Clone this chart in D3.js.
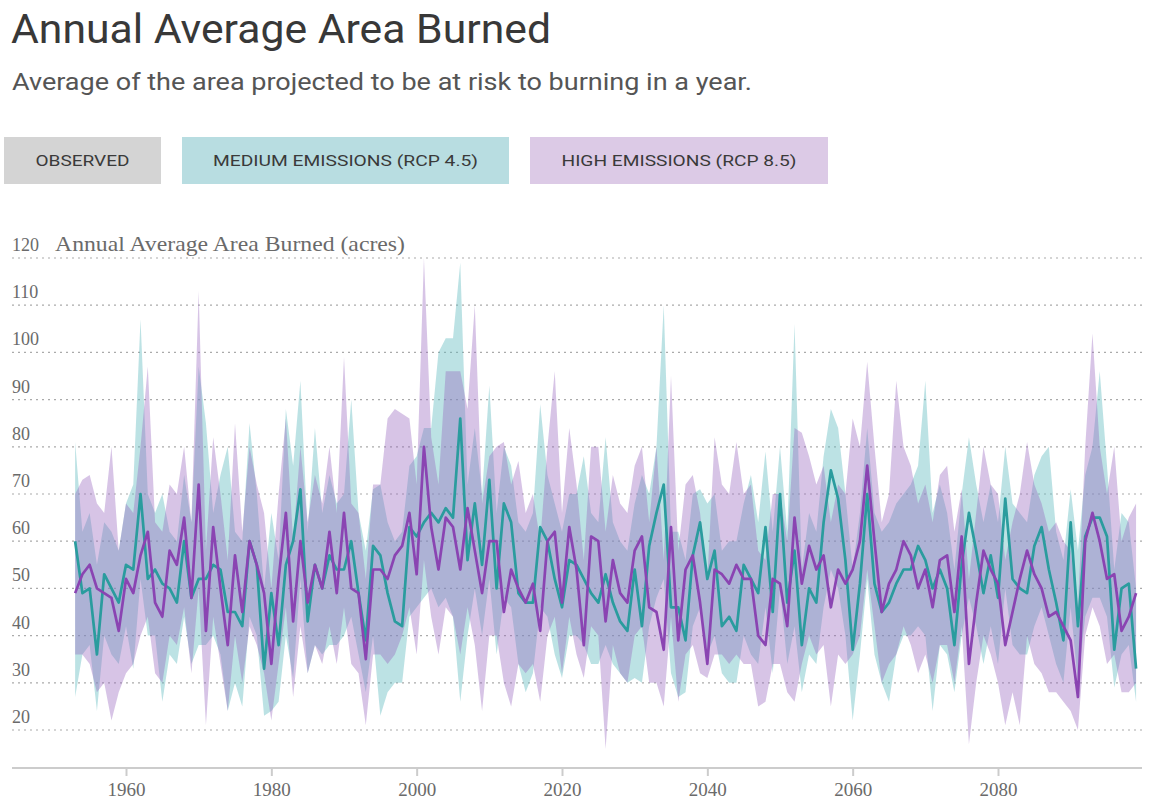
<!doctype html>
<html lang="en">
<head>
<meta charset="utf-8">
<title>Annual Average Area Burned</title>
<script src="https://d3js.org/d3.v7.min.js"></script>
<style>
    body { margin: 0; background: #fff; }
    .title { font-family: Roboto, "Open Sans", sans-serif; font-size: 40px; font-weight: 400; fill: #383838; }
    .subtitle { font-family: Roboto, "Open Sans", sans-serif; font-size: 23px; fill: #555; }
    .btn text { font-family: Roboto, sans-serif; font-size: 15px; fill: #3a3a3a; }
    .grid line { stroke: #aaa; stroke-dasharray: 2,4; stroke-width: 1.2px; }
    .ylab { font-family: "Liberation Serif", serif; font-size: 18px; fill: #6a6a6a; }
    .xaxis text { font-family: "Liberation Serif", serif; font-size: 19px; fill: #6a6a6a; }
    .xaxis path, .xaxis line { stroke: #ccc; stroke-width: 2px; }
    .line { fill: none; stroke-width: 2.7px; stroke-linejoin: round; }
</style>
</head>
<body>
<svg width="1151" height="806"></svg>
<script>
// years 1953 .. 2099
var firstYear = 1953;

// medium emissions (RCP 4.5)
var rcp45 = [
    60,49,50,36,53,50,47,
    55,54,70,52,54,51,50,47,60,48,
    52,52,55,54,45,45,42,60,55,33,
    49,38,55,60,71,43,55,50,57,54,
    54,60,49,39,59,57,49,43,42,63,
    61,64,66,64,67,65,86,56,68,55,
    73,50,68,64,49,47,47,63,60,52,
    46,56,55,52,49,47,53,47,43,41,
    54,42,59,66,72,46,46,39,57,64,
    52,58,42,44,41,55,52,49,63,45,
    70,47,58,38,50,47,64,75,69,56,
    37,51,70,51,45,47,51,54,54,59,
    56,50,54,50,38,55,66,58,49,57,
    48,69,52,50,49,59,63,54,47,39,
    64,42,61,65,65,61,37,50,51,33
];
var hi45 = [
    81,62,66,55,64,62,58,
    68,72,107,70,66,70,62,60,74,64,
    97,85,66,74,80,62,60,85,70,50,
    66,56,88,76,94,62,84,66,74,68,
    70,90,66,58,71,72,64,60,62,76,
    78,84,84,100,103,103,119,72,84,70,
    93,66,80,76,64,62,66,89,74,68,
    62,70,70,78,66,64,82,64,60,58,
    68,74,70,80,110,62,62,56,70,71,
    68,70,58,60,60,68,74,64,79,62,
    80,62,106,54,66,62,78,88,84,70,
    54,66,84,66,62,64,68,70,72,76,
    94,66,72,66,54,70,82,72,64,72,
    64,80,68,66,64,74,78,80,62,56,
    71,58,74,80,96,76,54,66,64,50
];
var lo45 = [
    27,36,38,24,40,36,34,
    42,33,52,40,40,26,36,34,44,34,
    38,38,40,36,24,30,25,44,40,23,
    24,26,40,31,52,32,38,36,38,38,
    40,44,36,28,40,23,28,30,30,44,
    46,48,50,46,48,44,26,40,50,40,
    52,36,48,46,34,28,32,46,44,36,
    31,40,40,38,34,34,38,34,32,30,
    31,30,42,48,52,32,27,28,42,46,
    36,40,32,30,30,40,36,34,46,32,
    50,34,42,28,36,34,46,54,50,40,
    22,36,52,36,30,26,36,40,40,42,
    40,24,38,36,28,40,48,42,34,42,
    34,50,38,36,36,42,46,40,34,30,
    46,30,44,48,48,44,29,36,38,26
];

// high emissions (RCP 8.5)
var rcp85 = [
    49,53,55,50,49,48,41,
    52,49,57,62,47,44,58,55,65,48,
    72,41,63,50,38,57,45,60,55,49,
    34,52,66,43,60,47,55,50,62,49,
    66,50,49,35,54,54,52,57,59,66,
    53,80,63,54,65,63,54,67,58,49,
    60,60,45,54,50,47,51,41,60,62,
    47,63,54,38,61,60,43,56,49,47,
    58,61,46,45,37,63,39,54,57,47,
    34,54,53,51,55,52,52,40,38,52,
    51,42,65,51,59,54,57,46,54,51,
    54,60,76,60,45,51,54,60,57,50,
    54,46,56,57,45,61,34,47,58,54,
    51,38,45,52,58,53,50,44,45,42,
    39,27,60,66,60,52,53,41,44,49
];
var hi85 = [
    70,73,74,68,66,80,58,
    68,66,80,97,64,62,72,70,80,64,
    113,58,82,70,56,85,62,80,72,66,
    50,70,86,60,80,64,74,68,80,66,
    99,68,66,52,72,72,86,88,87,86,
    72,120,82,72,96,96,96,88,110,68,
    78,80,81,72,77,66,70,60,80,96,
    66,84,72,56,80,80,62,74,68,66,
    76,80,64,80,56,95,58,72,74,66,
    52,82,72,70,81,70,72,58,56,70,
    70,60,84,83,78,72,76,64,72,70,
    86,80,98,80,64,70,94,80,76,68,
    72,64,74,76,62,71,52,66,80,72,
    70,56,64,70,81,72,68,62,64,60,
    58,46,80,104,80,70,80,60,65,68
];
var lo85 = [
    36,36,34,28,30,22,28,
    32,34,40,44,32,30,40,38,46,32,
    50,21,44,34,24,40,30,42,38,32,
    22,34,46,27,42,32,38,34,42,34,
    46,34,32,21,36,36,34,36,40,46,
    36,56,44,36,46,44,36,46,38,24,
    40,40,30,25,34,32,34,26,40,44,
    32,44,36,31,42,40,16,38,32,30,
    40,42,30,30,25,44,26,36,38,32,
    31,36,36,34,36,34,34,25,26,34,
    34,28,26,34,40,36,38,25,36,34,
    36,40,54,42,30,34,36,42,38,32,
    36,30,38,38,30,42,17,30,40,36,
    30,21,28,21,40,34,32,28,28,26,
    24,20,40,46,42,34,36,28,28,30
];

var yTicks = [20, 30, 40, 50, 60, 70, 80, 90, 100, 110, 120];
var xTicks = [1960, 1980, 2000, 2020, 2040, 2060, 2080];
var buttons = [
    {label: "OBSERVED", fill: "#d4d4d4"},
    {label: "MEDIUM EMISSIONS (RCP 4.5)", fill: "#b8dde1"},
    {label: "HIGH EMISSIONS (RCP 8.5)", fill: "#dccae6"}
];

function series(vals) {
    return vals.map(function(v, i) { return {year: firstYear + i, v: v}; });
}
function band(lo, hi) {
    return lo.map(function(v, i) { return {year: firstYear + i, lo: v, hi: hi[i]}; });
}

var svg = d3.select("svg");

svg.append("text").attr("class", "title")
    .attr("x", 11).attr("y", 43)
    .attr("textLength", 540).attr("lengthAdjust", "spacingAndGlyphs")
    .text("Annual Average Area Burned");
svg.append("text").attr("class", "subtitle")
    .attr("x", 12).attr("y", 90)
    .attr("textLength", 740).attr("lengthAdjust", "spacingAndGlyphs")
    .text("Average of the area projected to be at risk to burning in a year.");

// legend buttons
var btnX = [4, 182, 530], btnW = [157, 327, 298], txtW = [94, 265, 235];
var btn = svg.selectAll(".btn")
    .data(buttons)
    .enter().append("g")
    .attr("class", "btn")
    .attr("transform", function(d, i) { return "translate(" + btnX[i] + ",137)"; });
btn.append("rect")
    .attr("width", function(d, i) { return btnW[i]; })
    .attr("height", 47)
    .attr("fill", function(d) { return d.fill; });
btn.append("text")
    .attr("x", function(d, i) { return (btnW[i] - txtW[i]) / 2; })
    .attr("y", 24)
    .attr("dy", "0.35em")
    .attr("textLength", function(d, i) { return txtW[i]; })
    .attr("lengthAdjust", "spacingAndGlyphs")
    .text(function(d) { return d.label; });

var x = d3.scaleLinear().domain([1960, 2080]).range([126, 998]);
var y = d3.scaleLinear().domain([20, 120]).range([730, 258]);

// grid
var grid = svg.append("g").attr("class", "grid");
grid.selectAll("line")
    .data(yTicks)
    .enter().append("line")
    .attr("x1", 12).attr("x2", 1142)
    .attr("y1", function(d) { return y(d); })
    .attr("y2", function(d) { return y(d); });
svg.append("g").selectAll("text")
    .data(yTicks)
    .enter().append("text")
    .attr("class", "ylab")
    .attr("x", 12)
    .attr("y", function(d) { return y(d) - 7; })
    .text(function(d) { return d; });
svg.append("text").attr("class", "ylab")
    .attr("x", 55).attr("y", y(120) - 7)
    .style("font-size", "21px")
    .attr("textLength", 350).attr("lengthAdjust", "spacingAndGlyphs")
    .text("Annual Average Area Burned (acres)");

// bands
var area = d3.area()
    .x(function(d) { return x(d.year); })
    .y0(function(d) { return y(d.lo); })
    .y1(function(d) { return y(d.hi); });

svg.append("path")
    .datum(band(lo45, hi45))
    .attr("fill", "rgb(95,185,190)")
    .attr("fill-opacity", 0.42)
    .attr("d", area);
svg.append("path")
    .datum(band(lo85, hi85))
    .attr("fill", "rgb(150,100,190)")
    .attr("fill-opacity", 0.38)
    .attr("d", area);

var line = d3.line()
    .x(function(d) { return x(d.year); })
    .y(function(d) { return y(d.v); });

svg.append("path")
    .datum(series(rcp45))
    .attr("class", "line")
    .attr("stroke", "#2a9c9e")
    .attr("d", line);
svg.append("path")
    .datum(series(rcp85))
    .attr("class", "line")
    .attr("stroke", "#8a44b2")
    .attr("d", line);

// x axis
var xAxis = svg.append("g")
    .attr("class", "xaxis")
    .attr("transform", "translate(0,768)")
    .call(d3.axisBottom(x).tickValues(xTicks).tickFormat(d3.format("d")).tickSize(8).tickPadding(7));
xAxis.select(".domain").attr("d", "M12,0H1142");
</script>
</body>
</html>
